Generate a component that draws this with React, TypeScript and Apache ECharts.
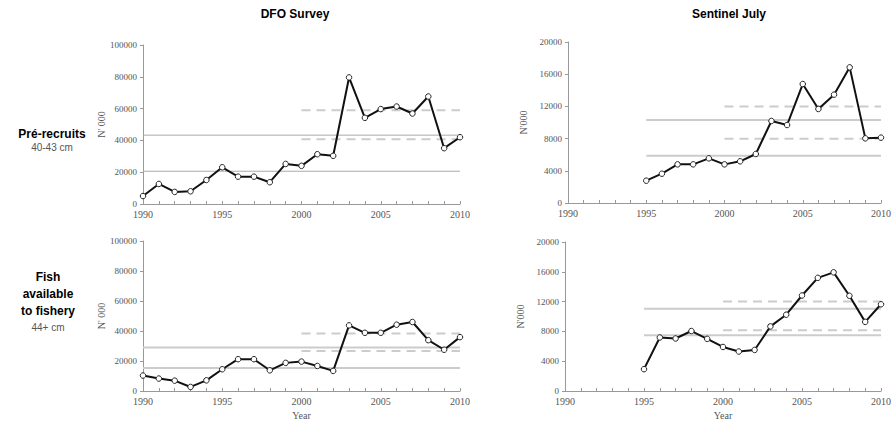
import React, { useEffect, useRef } from "react";
import * as echarts from "echarts";

// Years
const dfoYears = [1990, 1991, 1992, 1993, 1994, 1995, 1996, 1997, 1998, 1999, 2000, 2001, 2002, 2003, 2004, 2005, 2006, 2007, 2008, 2009, 2010];
const sentYears = [1995, 1996, 1997, 1998, 1999, 2000, 2001, 2002, 2003, 2004, 2005, 2006, 2007, 2008, 2009, 2010];

// Series values (N'000)
const dfoPre = [5000, 12600, 7600, 8000, 15100, 23100, 17200, 17200, 13700, 25200, 24000, 31300, 30300, 79600, 54200, 59700, 61300, 56900, 67600, 35100, 42000];
const sentPre = [2770, 3640, 4800, 4800, 5550, 4800, 5180, 6090, 10190, 9690, 14780, 11680, 13460, 16850, 8030, 8120];
const dfoFish = [10300, 8300, 6900, 2700, 7100, 14500, 21200, 21200, 13800, 18750, 19600, 16700, 13400, 43750, 38800, 38800, 44200, 46000, 33900, 27500, 35900];
const sentFish = [2930, 7180, 7050, 8050, 7000, 5910, 5300, 5510, 8670, 10240, 12820, 15190, 15930, 12780, 9280, 11640];

// Reference levels: [solid high, solid low, dashed high, dashed low]
const dfoPreRef = [43300, 20600, 59000, 40800];
const sentPreRef = [10310, 5880, 12000, 7990];
const dfoFishRef = [29000, 15400, 38400, 26600];
const sentFishRef = [11030, 7480, 12030, 8140];

const columnTitles = ["DFO Survey", "Sentinel July"];
const rowLabels = [["Pré-recruits"], ["Fish", "available", "to fishery"]];
const rowSizes = ["40-43 cm", "44+ cm"];

export default function App() {
  const ref = useRef<HTMLDivElement>(null);
  useEffect(() => {
    if (!ref.current) return;
    const chart = echarts.init(ref.current, null, { renderer: "svg" });
    const serif = "'Liberation Serif', 'Times New Roman', serif";
    const sans = "'Liberation Sans', Arial, sans-serif";
    const grids = [
      { left: 143, top: 45, width: 317, height: 159 },
      { left: 568, top: 42, width: 316, height: 161 },
      { left: 143, top: 241, width: 317, height: 150 },
      { left: 565, top: 242, width: 322, height: 152 },
    ];
    const yMax = [100000, 20000, 100000, 20000];
    const yInt = [20000, 4000, 20000, 4000];
    const yNames = ["N' 000", "N'000", "N' 000", "N'000"];
    const xAxes = grids.map((_, i) => ({
      type: "value",
      gridIndex: i,
      min: 1990,
      max: 2010,
      interval: 1,
      name: i >= 2 ? "Year" : "",
      nameLocation: "middle",
      nameGap: 19,
      nameTextStyle: { fontFamily: serif, fontSize: 10, color: "#555" },
      axisLine: { lineStyle: { color: "#999", width: 1 } },
      axisTick: { inside: true, length: 3, lineStyle: { color: "#999" } },
      splitLine: { show: false },
      axisLabel: {
        fontFamily: serif,
        fontSize: 10,
        color: "#555",
        margin: 5,
        showMaxLabel: true,
        showMinLabel: true,
        formatter: (v: number) => (v % 5 === 0 ? String(v) : ""),
      },
    }));
    const yAxes = grids.map((_, i) => ({
      type: "value",
      gridIndex: i,
      min: 0,
      max: yMax[i],
      interval: yInt[i],
      name: yNames[i],
      nameLocation: "middle",
      nameRotate: 90,
      nameGap: i % 2 === 0 ? 35 : 40,
      nameTextStyle: { fontFamily: serif, fontSize: 10, color: "#555" },
      axisLine: { show: true, lineStyle: { color: "#999", width: 1 } },
      axisTick: { show: true, length: 3, lineStyle: { color: "#999" } },
      splitLine: { show: false },
      axisLabel: { fontFamily: serif, fontSize: 9, color: "#555", margin: 6, formatter: (v: number) => String(v) },
    }));

    const datasets = [
      { years: dfoYears, vals: dfoPre, ref: dfoPreRef, start: 1990, solidColor: "#aaaaaa", solidW: 1 },
      { years: sentYears, vals: sentPre, ref: sentPreRef, start: 1995, solidColor: "#cccccc", solidW: 2 },
      { years: dfoYears, vals: dfoFish, ref: dfoFishRef, start: 1990, solidColor: "#cccccc", solidW: 2 },
      { years: sentYears, vals: sentFish, ref: sentFishRef, start: 1995, solidColor: "#cccccc", solidW: 2 },
    ];
    const series: any[] = [];
    datasets.forEach((d, i) => {
      [0, 1].forEach((k) => {
        series.push({
          type: "line",
          xAxisIndex: i,
          yAxisIndex: i,
          data: [[d.start, d.ref[k]], [2010, d.ref[k]]],
          symbol: "none",
          lineStyle: { color: d.solidColor, width: d.solidW },
          silent: true,
          z: 1,
        });
      });
      [2, 3].forEach((k) => {
        series.push({
          type: "line",
          xAxisIndex: i,
          yAxisIndex: i,
          data: [[2000, d.ref[k]], [2010, d.ref[k]]],
          symbol: "none",
          lineStyle: { color: "#cccccc", width: 2, type: [9, 6] },
          silent: true,
          z: 1,
        });
      });
      series.push({
        type: "line",
        xAxisIndex: i,
        yAxisIndex: i,
        data: d.years.map((y, j) => [y, d.vals[j]]),
        symbol: "circle",
        symbolSize: 5.5,
        itemStyle: { color: "#ffffff", borderColor: "#222", borderWidth: 1 },
        lineStyle: { color: "#111", width: 2 },
        z: 3,
      });
    });

    const graphic: any[] = [
      { type: "text", x: 295, y: 14, style: { text: columnTitles[0], font: `bold 12px ${sans}`, fill: "#000", align: "center", verticalAlign: "middle" } },
      { type: "text", x: 729, y: 14, style: { text: columnTitles[1], font: `bold 12px ${sans}`, fill: "#000", align: "center", verticalAlign: "middle" } },
      { type: "text", x: 52, y: 134, style: { text: rowLabels[0][0], font: `bold 12px ${sans}`, fill: "#000", align: "center", verticalAlign: "middle" } },
      { type: "text", x: 52, y: 147, style: { text: rowSizes[0], font: `10px ${sans}`, fill: "#555", align: "center", verticalAlign: "middle" } },
      ...rowLabels[1].map((t, j) => ({
        type: "text", x: 48, y: 277 + j * 17, style: { text: t, font: `bold 12px ${sans}`, fill: "#000", align: "center", verticalAlign: "middle" },
      })),
      { type: "text", x: 48, y: 327, style: { text: rowSizes[1], font: `10px ${sans}`, fill: "#555", align: "center", verticalAlign: "middle" } },
    ];

    chart.setOption({
      animation: false,
      backgroundColor: "#ffffff",
      grid: grids,
      xAxis: xAxes,
      yAxis: yAxes,
      series,
      graphic,
    });
    return () => chart.dispose();
  }, []);
  return <div ref={ref} style={{ position: "fixed", left: 0, top: 0, width: 894, height: 421 }} />;
}
